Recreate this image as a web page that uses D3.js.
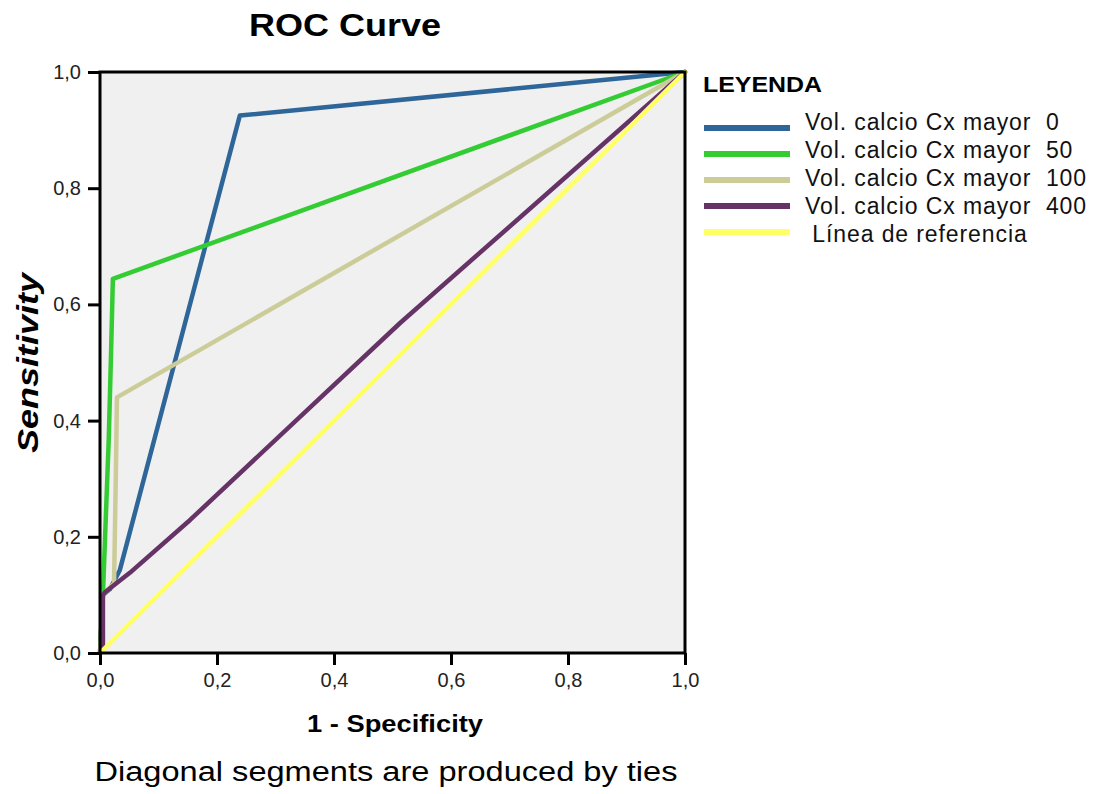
<!DOCTYPE html>
<html>
<head>
<meta charset="utf-8">
<script src="https://cdn.jsdelivr.net/npm/d3@7"></script>
<style>
  html, body { margin: 0; padding: 0; background: #ffffff; }
  svg { display: block; font-family: "Liberation Sans", Arial, sans-serif; }
</style>
</head>
<body>
<svg id="chart" width="1097" height="794"></svg>
<script>
// ROC curves: false positive rate (1 - specificity) vs sensitivity
const seriesNames = [
  "Vol. calcio Cx mayor  0",
  "Vol. calcio Cx mayor  50",
  "Vol. calcio Cx mayor  100",
  "Vol. calcio Cx mayor  400",
  " Línea de referencia"
];
const seriesColors = ["#2f6699", "#33cc33", "#cccc99", "#663366", "#ffff66"];

const fpr0   = [0, 0.005, 0.017, 0.034, 0.239, 1];
const tpr0   = [0, 0.10, 0.11, 0.143, 0.925, 1];
const fpr50  = [0, 0.005, 0.015, 0.019, 0.022, 1];
const tpr50  = [0, 0.10, 0.37, 0.52, 0.644, 1];
const fpr100 = [0, 0.005, 0.024, 0.027, 0.029, 1];
const tpr100 = [0, 0.10, 0.12, 0.30, 0.44, 1];
const fpr400 = [0, 0.005, 0.005, 0.009, 0.051, 0.154, 0.513, 1];
const tpr400 = [0, 0.01, 0.10, 0.105, 0.138, 0.229, 0.568, 1];
const fprRef = [0, 1];
const tprRef = [0, 1];

const tickValues = [0, 0.2, 0.4, 0.6, 0.8, 1.0];
const tickLabels = ["0,0", "0,2", "0,4", "0,6", "0,8", "1,0"];

const fprSets = [fpr0, fpr50, fpr100, fpr400, fprRef];
const tprSets = [tpr0, tpr50, tpr100, tpr400, tprRef];
const series = seriesNames.map((name, i) => ({
  name,
  color: seriesColors[i],
  points: fprSets[i].map((x, j) => [x, tprSets[i][j]])
}));

const svg = d3.select("#chart");
const plot = { left: 100, right: 685, top: 72, bottom: 653 };

const x = d3.scaleLinear().domain([0, 1]).range([plot.left, plot.right]);
const y = d3.scaleLinear().domain([0, 1]).range([plot.bottom, plot.top]);

// plot background
svg.append("rect")
  .attr("x", plot.left).attr("y", plot.top)
  .attr("width", plot.right - plot.left)
  .attr("height", plot.bottom - plot.top)
  .attr("fill", "#f0f0f0");

// curves
const line = d3.line().x(d => x(d[0])).y(d => y(d[1]));
svg.append("g")
  .selectAll("path")
  .data(series)
  .join("path")
  .attr("d", d => line(d.points))
  .attr("fill", "none")
  .attr("stroke", d => d.color)
  .attr("stroke-width", 4.5)
  .attr("stroke-linejoin", "round")
  .attr("stroke-linecap", "round");

// frame
svg.append("rect")
  .attr("x", plot.left).attr("y", plot.top)
  .attr("width", plot.right - plot.left)
  .attr("height", plot.bottom - plot.top)
  .attr("fill", "none")
  .attr("stroke", "#000")
  .attr("stroke-width", 3);

// axes
const fmt = (d) => tickLabels[tickValues.indexOf(d)];
const xAxis = d3.axisBottom(x).tickValues(tickValues).tickFormat(fmt)
  .tickSize(12).tickSizeOuter(0).tickPadding(8);
const yAxis = d3.axisLeft(y).tickValues(tickValues).tickFormat(fmt)
  .tickSize(12).tickSizeOuter(0).tickPadding(7);

const gx = svg.append("g").attr("transform", `translate(0,${plot.bottom})`).call(xAxis);
const gy = svg.append("g").attr("transform", `translate(${plot.left},0)`).call(yAxis);
[gx, gy].forEach(g => {
  g.select(".domain").remove();
  g.selectAll(".tick line").attr("stroke", "#000").attr("stroke-width", 3);
  g.selectAll(".tick text")
    .attr("fill", "#222")
    .style("font-size", "20px")
    .style("font-family", "'Liberation Sans', Arial, sans-serif");
});

// title
svg.append("text")
  .attr("x", 345).attr("y", 36)
  .attr("text-anchor", "middle")
  .attr("textLength", 192).attr("lengthAdjust", "spacingAndGlyphs")
  .style("font-size", "31px").style("font-weight", "bold")
  .text("ROC Curve");

// axis titles
svg.append("text")
  .attr("x", 395).attr("y", 732)
  .attr("text-anchor", "middle")
  .attr("textLength", 176).attr("lengthAdjust", "spacingAndGlyphs")
  .style("font-size", "23px").style("font-weight", "bold")
  .text("1 - Specificity");

svg.append("text")
  .attr("transform", "translate(38,363) rotate(-90)")
  .attr("text-anchor", "middle")
  .attr("textLength", 180).attr("lengthAdjust", "spacingAndGlyphs")
  .style("font-size", "30px").style("font-weight", "bold").style("font-style", "italic")
  .text("Sensitivity");

svg.append("text")
  .attr("x", 386).attr("y", 781)
  .attr("text-anchor", "middle")
  .attr("textLength", 583).attr("lengthAdjust", "spacingAndGlyphs")
  .style("font-size", "27px")
  .text("Diagonal segments are produced by ties");

// legend
const legend = svg.append("g");
legend.append("text")
  .attr("x", 703).attr("y", 92)
  .attr("textLength", 119).attr("lengthAdjust", "spacingAndGlyphs")
  .style("font-size", "22px").style("font-weight", "bold")
  .text("LEYENDA");

const rows = legend.selectAll("g.row")
  .data(series)
  .join("g")
  .attr("class", "row");
rows.append("line")
  .attr("x1", 704).attr("x2", 790)
  .attr("y1", (d, i) => 128 + i * 26)
  .attr("y2", (d, i) => 128 + i * 26)
  .attr("stroke", d => d.color)
  .attr("stroke-width", 6);
rows.append("text")
  .attr("x", 805)
  .attr("y", (d, i) => 130 + i * 28)
  .attr("xml:space", "preserve")
  .style("white-space", "pre")
  .style("font-size", "23px")
  .style("letter-spacing", "0.9px")
  .attr("fill", "#111")
  .text(d => d.name);
</script>
</body>
</html>
